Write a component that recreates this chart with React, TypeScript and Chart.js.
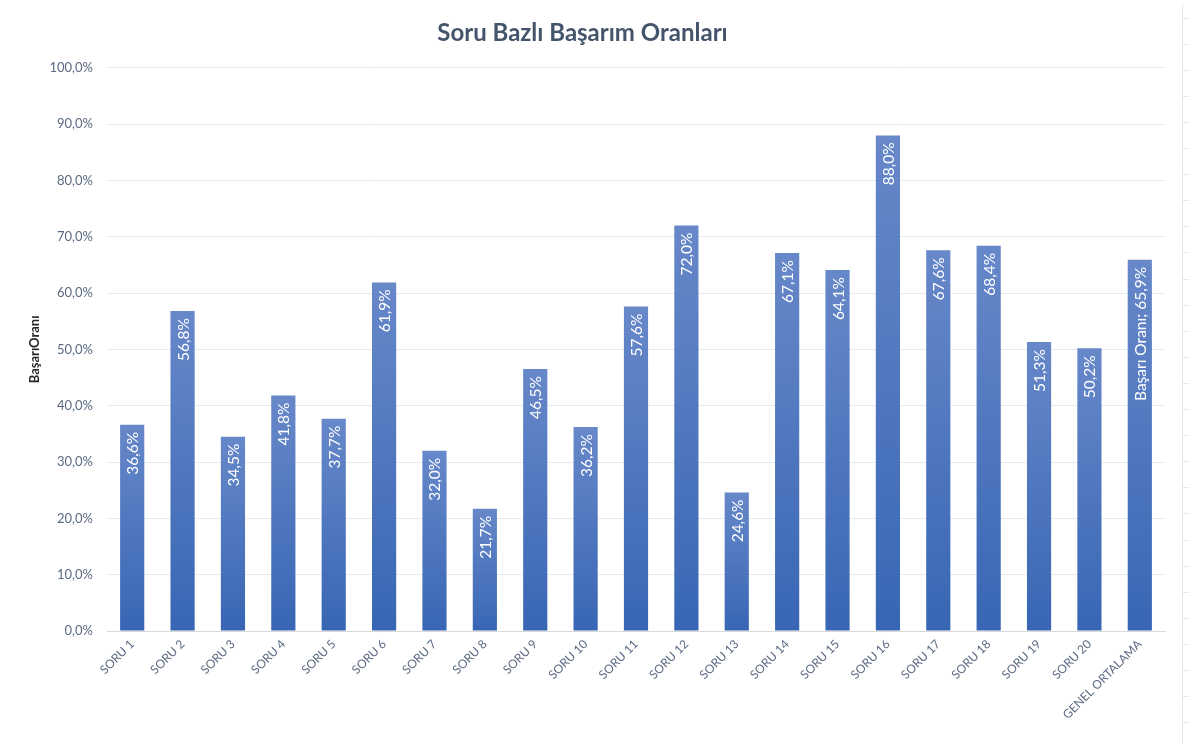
import React, { useEffect, useRef } from "react";
import { Chart, registerables } from "chart.js";

Chart.register(...registerables);

const categories: string[] = [
  "SORU 1", "SORU 2", "SORU 3", "SORU 4", "SORU 5", "SORU 6", "SORU 7", "SORU 8",
  "SORU 9", "SORU 10", "SORU 11", "SORU 12", "SORU 13", "SORU 14", "SORU 15",
  "SORU 16", "SORU 17", "SORU 18", "SORU 19", "SORU 20", "GENEL ORTALAMA",
];

const successRates: number[] = [
  36.6, 56.8, 34.5, 41.8, 37.7, 61.9, 32.0, 21.7, 46.5, 36.2, 57.6,
  72.0, 24.6, 67.1, 64.1, 88.0, 67.6, 68.4, 51.3, 50.2, 65.9,
];

const valueLabelPrefixes: string[] = [
  "", "", "", "", "", "", "", "", "", "", "", "", "", "", "", "", "", "", "", "", "Başarı Oranı; ",
];

const yTickValues: number[] = [0, 10, 20, 30, 40, 50, 60, 70, 80, 90, 100];

const TITLE = "Soru Bazlı Başarım Oranları";
const Y_TITLE = "BaşarıOranı";
const FONT = "Lato, 'Open Sans', sans-serif";

const fmt = (v: number) => v.toFixed(1).replace(".", ",") + "%";

const labelPlugin = {
  id: "barValueLabels",
  afterDatasetsDraw(chart: any) {
    const ctx = chart.ctx;
    const meta = chart.getDatasetMeta(0);
    ctx.save();
    ctx.fillStyle = "#ffffff";
    ctx.font = `15.5px ${FONT}`;
    ctx.textAlign = "right";
    ctx.textBaseline = "middle";
    meta.data.forEach((bar: any, i: number) => {
      const text = valueLabelPrefixes[i] + fmt(successRates[i]);
      ctx.save();
      ctx.translate(bar.x, bar.y + 7);
      ctx.rotate(-Math.PI / 2);
      ctx.fillText(text, 0, 1);
      ctx.restore();
    });
    ctx.restore();
  },
};

const sheetEdgePlugin = {
  id: "sheetEdge",
  beforeDraw(chart: any) {
    const ctx = chart.ctx;
    const x = chart.width - 6.5;
    ctx.save();
    ctx.strokeStyle = "#e3e6ec";
    ctx.lineWidth = 1;
    ctx.beginPath();
    ctx.moveTo(x, 5);
    ctx.lineTo(x, chart.height);
    ctx.stroke();
    for (let y = 17.5; y < chart.height; y += 26.1) {
      ctx.beginPath();
      ctx.moveTo(x, Math.round(y) + 0.5);
      ctx.lineTo(chart.width, Math.round(y) + 0.5);
      ctx.stroke();
    }
    ctx.restore();
  },
};

export default function App() {
  const canvasRef = useRef<HTMLCanvasElement | null>(null);

  useEffect(() => {
    document.body.style.margin = "0";
    const canvas = canvasRef.current;
    if (!canvas) return;
    const chart = new Chart(canvas, {
      type: "bar",
      data: {
        labels: categories,
        datasets: [
          {
            label: "Başarı Oranı",
            data: successRates,
            backgroundColor: (c: any) => {
              const ch = c.chart;
              const area = ch.chartArea;
              const ys = ch.scales?.y;
              if (!area || !ys || c.raw == null) return "#4f78bf";
              const top = ys.getPixelForValue(c.raw as number);
              const g = ch.ctx.createLinearGradient(0, top, 0, area.bottom);
              g.addColorStop(0, "#6788c9");
              g.addColorStop(1, "#3866b4");
              return g;
            },
            borderWidth: 0,
            barPercentage: 0.48,
            categoryPercentage: 1,
          },
        ],
      },
      options: {
        responsive: false,
        animation: false,
        maintainAspectRatio: false,
        layout: { padding: { left: 0, right: 24, top: 0, bottom: 0 } },
        plugins: {
          legend: { display: false },
          tooltip: { enabled: false },
          title: {
            display: true,
            text: TITLE,
            color: "#44546a",
            font: { family: FONT, size: 24, weight: "bold" },
            padding: { top: 19, bottom: 20 },
          },
        },
        scales: {
          x: {
            grid: { display: false, drawTicks: false },
            border: { display: true, color: "#d9d9d9" },
            ticks: {
              color: "#5b6a83",
              font: { family: FONT, size: 12 },
              maxRotation: 45,
              minRotation: 45,
              autoSkip: false,
              padding: 6,
            },
            afterFit: (s: any) => {
              s.height = 113;
            },
          },
          y: {
            min: 0,
            max: 100,
            afterBuildTicks: (s: any) => {
              s.ticks = yTickValues.map((v) => ({ value: v }));
            },
            grid: { color: "#e6e9ee", drawTicks: false },
            border: { display: false },
            ticks: {
              color: "#5b6a83",
              font: { family: FONT, size: 13 },
              padding: 14,
              callback: (v: any) => fmt(Number(v)),
            },
            title: {
              display: true,
              text: Y_TITLE,
              color: "#262626",
              font: { family: FONT, size: 13, weight: "bold" },
              padding: { top: 27, bottom: 0 },
            },
            afterFit: (s: any) => {
              s.width = 107;
            },
          },
        },
      },
      plugins: [labelPlugin, sheetEdgePlugin],
    });
    return () => chart.destroy();
  }, []);

  return (
    <div style={{ position: "absolute", left: 0, top: 0, width: 1189, height: 744 }}>
      <canvas ref={canvasRef} width={1189} height={744} style={{ display: "block" }} />
    </div>
  );
}
